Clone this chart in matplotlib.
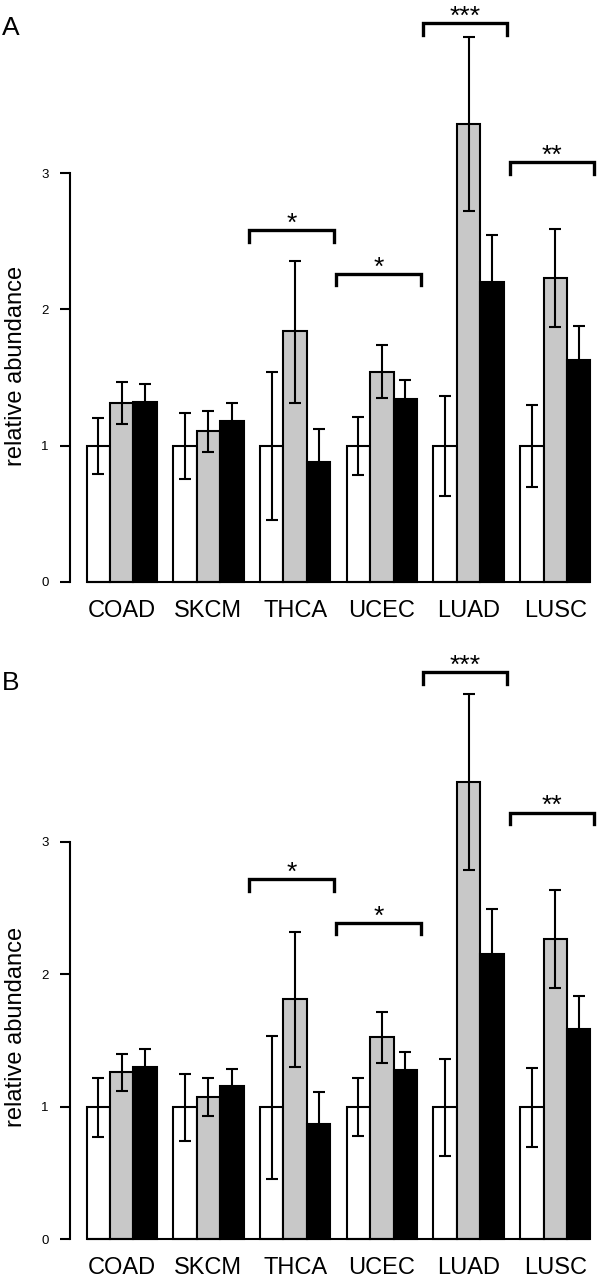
import matplotlib.pyplot as plt
import numpy as np

'''
Relative abundance per cancer type, two panels (A, B), three groups per type
'''

plt.rcParams['font.family'] = ['Liberation Sans', 'DejaVu Sans']

# data

categories = ['COAD', 'SKCM', 'THCA', 'UCEC', 'LUAD', 'LUSC']

# panel A: bar heights and upper / lower error bar ends
a_white = [1.0, 1.0, 1.0, 1.0, 1.0, 1.0]
a_white_hi = [1.20, 1.24, 1.54, 1.21, 1.365, 1.296]
a_white_lo = [0.79, 0.753, 0.455, 0.787, 0.631, 0.697]
a_gray = [1.315, 1.105, 1.84, 1.543, 3.36, 2.227]
a_gray_hi = [1.467, 1.257, 2.357, 1.737, 3.996, 2.587]
a_gray_lo = [1.16, 0.956, 1.315, 1.352, 2.724, 1.867]
a_black = [1.32, 1.183, 0.88, 1.343, 2.198, 1.626]
a_black_hi = [1.455, 1.313, 1.125, 1.484, 2.548, 1.878]

# panel B
b_white = [1.0, 1.0, 1.0, 1.0, 1.0, 1.0]
b_white_hi = [1.22, 1.25, 1.537, 1.215, 1.361, 1.293]
b_white_lo = [0.774, 0.74, 0.453, 0.777, 0.629, 0.694]
b_gray = [1.26, 1.074, 1.811, 1.527, 3.45, 2.266]
b_gray_hi = [1.40, 1.215, 2.32, 1.718, 4.116, 2.64]
b_gray_lo = [1.12, 0.93, 1.303, 1.333, 2.79, 1.894]
b_black = [1.30, 1.155, 0.87, 1.28, 2.151, 1.587]
b_black_hi = [1.436, 1.283, 1.114, 1.411, 2.49, 1.836]

# significance brackets: which group, height, label
sig_groups = ['THCA', 'UCEC', 'LUAD', 'LUSC']
sig_labels = ['*', '*', '***', '**']
a_sig_y = [2.58, 2.26, 4.10, 3.08]
b_sig_y = [2.717, 2.389, 4.279, 3.22]

yticks = [0, 1, 2, 3]

# layout (px units of the 600x1280 figure)
px_per_bar = 23.44
step = 3.7                      # group spacing in bar widths
x0_px = 86.5
xlim = (-x0_px / px_per_bar, (600 - x0_px) / px_per_bar)
yaxis_x = (69.5 - x0_px) / px_per_bar

colors = ['white', '#c8c8c8', 'black']
lw = 1.5


def panel(ax, vals, his, los, sig_y, ylim):
    starts = np.arange(len(categories)) * step
    for k, (v, hi, lo) in enumerate(zip(vals, his, los)):
        xs = starts + 0.5 + k
        ax.bar(xs, v, width=1.0, color=colors[k], edgecolor='black',
               linewidth=lw, zorder=2)
        v = np.asarray(v)
        hi = np.asarray(hi)
        lo = np.asarray(lo) if lo is not None else 2 * v - hi
        ax.errorbar(xs, v, yerr=[v - lo, hi - v], fmt='none', ecolor='black',
                    elinewidth=lw, capsize=4.3, capthick=lw, zorder=3)

    # baseline across all groups
    ax.plot([0, starts[-1] + 3], [0, 0], color='black', lw=lw, zorder=4,
            solid_capstyle='butt')

    # brackets
    leg = 0.085
    for g, lab, y in zip(sig_groups, sig_labels, sig_y):
        s = starts[categories.index(g)]
        xl, xr = s - 0.45, s + 3.15
        ax.plot([xl, xl, xr, xr], [y - leg, y, y, y - leg], color='black',
                lw=2.4, solid_joinstyle='miter', zorder=3)
        ax.text((xl + xr) / 2, y - 0.005, lab, ha='center', va='baseline',
                fontsize=19)

    ax.set_xlim(*xlim)
    ax.set_ylim(*ylim)
    ax.set_xticks(starts + 1.5, categories)
    ax.tick_params(axis='x', length=0, pad=13, labelsize=17)
    ax.set_yticks(yticks)
    ax.tick_params(axis='y', length=7.2, width=lw, pad=8, labelsize=9.5)
    for side in ['top', 'right']:
        ax.spines[side].set_visible(False)
    ax.spines['bottom'].set_position(('data', 0))
    ax.spines['bottom'].set_color('none')
    ax.spines['left'].set_position(('data', yaxis_x))
    ax.spines['left'].set_bounds(0, 3)
    ax.spines['left'].set_linewidth(lw)
    ax.patch.set_alpha(0)


fig = plt.figure(figsize=(6, 12.8), dpi=100)
axA = fig.add_axes([0, 0.5, 1, 0.5])
axB = fig.add_axes([0, 0, 1, 0.5])

panel(axA, [a_white, a_gray, a_black],
      [a_white_hi, a_gray_hi, a_black_hi], [a_white_lo, a_gray_lo, None],
      a_sig_y, (-(640 - 582) / 136.33, 582 / 136.33))
panel(axB, [b_white, b_gray, b_black],
      [b_white_hi, b_gray_hi, b_black_hi], [b_white_lo, b_gray_lo, None],
      b_sig_y, (-(640 - 599.3) / 132.5, 599.3 / 132.5))

fig.text(0.003, 1 - 28 / 1280, 'A', fontsize=19, ha='left', va='center')
fig.text(0.003, 1 - 683 / 1280, 'B', fontsize=19, ha='left', va='center')
fig.text(16 / 600, 1 - 366 / 1280, 'relative abundance', rotation=90,
         fontsize=17, ha='center', va='center')
fig.text(16 / 600, 1 - 1027 / 1280, 'relative abundance', rotation=90,
         fontsize=17, ha='center', va='center')

fig.savefig('out.png', dpi=100)
